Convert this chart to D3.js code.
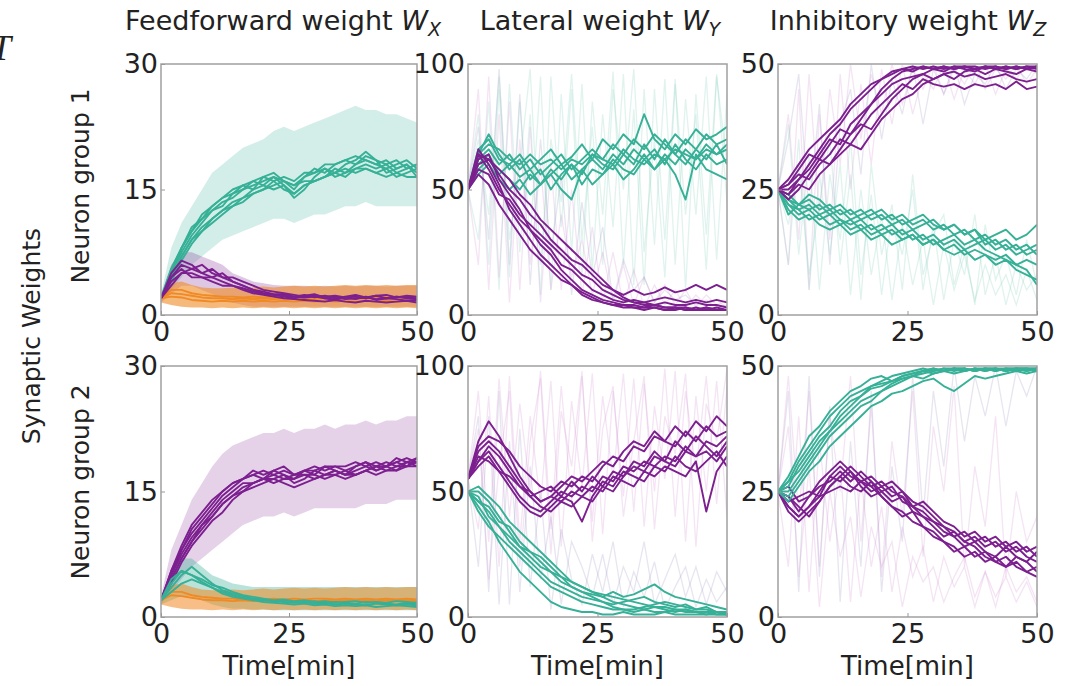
<!DOCTYPE html>
<html><head><meta charset="utf-8">
<script src="https://cdn.jsdelivr.net/npm/d3@7"></script>
<style>
html,body{margin:0;padding:0;background:#fff;}
svg{display:block;}
</style></head><body>
<svg id="chart" width="1073" height="686"></svg>
<script>
// ---------- time axis (minutes) ----------
const T = [0,2,4,6,8,10,12,14,16,18,20,22,24,26,28,30,32,34,36,38,40,42,44,46,48,50];
const X_TICKS = [0,25,50];
const TITLES = ["Feedforward weight ", "Lateral weight ", "Inhibitory weight "];
const SUBS = ["X","Y","Z"];
const ROW_LABELS = ["Neuron group 1","Neuron group 2"];
const Y_LABEL = "Synaptic Weights";
const X_LABEL = "Time[min]";
const Y_TICKS_FF = [0,15,30], Y_TICKS_LAT = [0,50,100], Y_TICKS_INH = [0,25,50];

// ---------- Panel A: feedforward, group 1 ----------
const A_teal1=[2,5.5,8,10.5,11.5,13,14,14.5,15.5,15,16.5,17,16,15.5,16.5,17.5,17,18,18.5,19,18.5,18,17.5,18,18.5,17.5];
const A_teal2=[2,4.5,7,9,10.5,11.5,12.5,13.5,14,15,15.5,15,15.5,14.5,15.5,16,16.5,17.5,17,17.5,18,17.5,18,17,17.5,18];
const A_teal3=[2,5,7.5,9.5,11,12.5,13.5,14,15,16,15.5,16.5,15.5,14,15,16.5,17.5,17,18,18.5,19.5,18.5,17,17.5,18,16.5];
const A_teal4=[2,4,6.5,8.5,10,11,12,13,14,14.5,15,15.5,16,15.5,16,16,16.5,17,17.5,17,17.5,17,17.5,16.5,17,17.5];
const A_teal5=[2,5.5,8,10,11.5,12.5,13,14.5,15,15.5,16,16.5,16,15,16.5,17,17.5,16.5,17,18,18.5,18,18.5,17.5,18,17];
const A_teal6=[2,4.5,7,9,10,11.5,12.5,13,13.5,14.5,15,16,15,14.5,15.5,16,16.5,17,16.5,17.5,17.5,17,16.5,17,16.5,16.5];
const A_teal7=[2,5,8,10,12,13,14,15,15.5,16,16.5,16,16.5,16,17,17,18,18,18.5,18,19,18.5,18,18.5,17.5,18];
const A_pur1=[2,4.5,6,5.5,5,5.5,4.5,4,3.5,3,2.8,2.5,2.5,2.2,2.4,2.1,2.3,2,2.2,2.4,2.1,2.3,2,2.2,2.1,2];
const A_pur2=[2,5,6.5,6,5,4.5,5,4,3.5,3,2.6,2.4,2.2,2,2.3,2.5,2,1.8,2.1,1.9,2.2,1.8,2,1.9,1.7,1.8];
const A_pur3=[2,4,5,5.5,6,5,4.5,4.5,4,3.5,3,2.8,2.6,2.4,2.2,2.4,2.2,2.3,2.1,2.2,2,2.3,2.4,2.1,2.3,2.2];
const A_pur4=[2,4.5,5.5,4.5,4.5,4,3.5,3.5,3,2.6,2.4,2.2,2,1.9,1.8,1.7,1.6,1.8,1.6,1.5,1.7,1.6,1.5,1.6,1.7,1.5];
const A_pur5=[2,3.5,5,5,4.5,4.5,4,3.5,3.2,2.8,2.5,2.4,2.3,2.2,2.1,2.2,2,2.1,1.9,2,2.1,1.9,2,2.2,2,1.9];
const A_or1=[2,3,3,2.6,2.4,2.3,2.2,2.2,2.1,2.2,2.1,2.2,2.1,2.2,2.1,2.2,2.2,2.1,2.2,2.1,2.2,2.1,2.2,2.1,2.2,2.1];
const A_or2=[2,2.6,2.5,2.3,2.1,2,2,1.9,2,1.9,2,1.9,2,1.9,2,1.9,2,1.9,2,1.9,2,1.9,2,1.9,2,1.9];
const A_or3=[2,2.2,2.1,1.8,1.7,1.6,1.7,1.6,1.7,1.6,1.7,1.6,1.7,1.6,1.7,1.6,1.7,1.6,1.7,1.6,1.7,1.6,1.7,1.6,1.7,1.6];
const A_tealHi=[2.5,8,11,13,15,17,18,19,20,20.5,21,22,22.5,22,22.5,23,23.5,24,24.5,25,24.5,24.5,24,24,23.5,23];
const A_tealLo=[1.5,3,4.5,6,7,8,9,9.5,10,10.5,11,11.5,11.5,11,11.5,12,12,12.5,13,13,13.5,13,13,13,13,13];
const A_purHi=[2.5,6,7.5,7.5,7,6.5,6,5,4.5,4,3.8,3.6,3.5,3.5,3.5,3.4,3.5,3.4,3.5,3.4,3.5,3.5,3.4,3.5,3.5,3.5];
const A_purLo=[1.5,2.5,3.5,3.5,3,2.5,2,1.5,1.2,1,1,1,1,1,1,1,1,1,1,1,1,1,1,1,1,1];
const A_orHi=[2.5,3.8,4,3.6,3.3,3.2,3.2,3.3,3.2,3.3,3.4,3.3,3.4,3.5,3.4,3.5,3.4,3.5,3.6,3.5,3.6,3.5,3.6,3.5,3.6,3.6];
const A_orLo=[1.5,1.2,1,0.9,0.9,0.8,0.9,0.8,0.9,0.8,0.9,0.8,0.9,0.8,0.9,0.8,0.9,0.8,0.9,0.8,0.9,0.8,0.9,0.8,0.9,0.8];

// ---------- Panel D: feedforward, group 2 ----------
const D_pur1=[2,5.5,8,10,11.5,13,14.5,15.5,16.5,17,16.5,17.5,17,16.5,17.5,17,18,17.5,17,18,18.5,17.5,18,18.5,19,18.5];
const D_pur2=[2,4.5,7,9,10.5,12,13.5,14.5,15.5,16,16.5,16.5,17,16,16.5,17.5,17,17.5,17,17,17.5,18,17.5,18,18,19];
const D_pur3=[2,5,8,10.5,12,13.5,15,16,16.5,17,17.5,17,17.5,17,17.5,17.5,18,18,17.5,18,18.5,18,18.5,18,18.5,18];
const D_pur4=[2,4,6.5,8.5,10,11.5,12.5,14,15,15.5,16,16.5,16,15.5,16,16.5,17,17,16.5,17,17.5,17,17.5,17.5,18,18.5];
const D_pur5=[2,5,7.5,9.5,11,12.5,14,15,16,16,16.5,17,16.5,17,17,16.5,17,17.5,17,17.5,18,17.5,18,18.5,18,18];
const D_pur6=[2,4.5,7,9,11,12,13.5,14.5,15,16,16.5,16,16.5,16.5,17,17,16.5,17,17.5,17,17.5,18,18,17.5,18.5,18.5];
const D_pur7=[2,5.5,8.5,11,12.5,14,15,16,16.5,17.5,17,17.5,18,17,17.5,18,17.5,18,18,18.5,18,18.5,18,19,18.5,19];
const D_teal1=[2,4.5,5.5,5,4.2,3.5,3,2.6,2.3,2.1,2,1.9,1.8,1.7,1.8,1.6,1.7,1.5,1.6,1.5,1.4,1.6,1.5,1.4,1.5,1.4];
const D_teal2=[2,3.5,5,6,5,4,3.2,2.8,2.5,2.2,2.1,1.9,2,1.8,1.7,1.9,1.6,1.8,1.7,1.6,1.8,1.7,1.6,1.5,1.7,1.6];
const D_teal3=[2,4,5.5,5,4.5,3.8,3.5,3,2.6,2.4,2.2,2,2.1,1.9,2,1.8,1.9,1.7,1.8,1.9,1.7,1.8,1.7,1.9,1.8,1.7];
const D_teal4=[2,3,4,4.5,4,3.5,2.8,2.4,2.2,2,1.8,1.7,1.6,1.5,1.6,1.4,1.5,1.3,1.4,1.3,1.4,1.2,1.3,1.4,1.3,1.2];
const D_purHi=[2.5,8,11,14,16,18,19.5,20.5,21,21.5,22,22,22.5,22,22.5,22.5,23,22.5,23,23,23.5,23,23.5,23.5,24,24];
const D_purLo=[1.5,3,4.5,6,7,8,9,10,11,11.5,12,12,12.5,12,12.5,13,13,13,13,13,13.5,13.5,13.5,14,14,14];
const D_tealHi=[2.5,5.5,7,7,6,5,4.5,4,3.8,3.6,3.6,3.6,3.6,3.6,3.6,3.6,3.6,3.6,3.6,3.6,3.6,3.6,3.6,3.6,3.6,3.6];
const D_tealLo=[1.5,2,2.5,2.5,2,1.5,1.2,1,1,0.9,0.9,0.8,0.8,0.8,0.8,0.8,0.8,0.8,0.8,0.8,0.8,0.8,0.8,0.8,0.8,0.8];

// ---------- Panel B: lateral, group 1 ----------
const B_teal1=[50,66,70,62,60,64,58,62,66,60,63,68,62,70,66,72,68,80,70,66,72,68,74,70,72,75];
const B_teal2=[50,60,64,56,60,55,58,52,56,60,54,58,62,58,64,60,66,62,58,64,60,66,62,68,64,66];
const B_teal3=[50,64,72,64,58,62,54,58,50,56,60,52,58,56,62,58,56,62,66,60,68,62,58,64,60,62];
const B_teal4=[50,58,62,58,54,50,56,52,58,54,60,56,64,60,58,64,60,68,62,70,64,60,66,62,68,60];
const B_teal5=[50,62,66,60,64,58,62,56,60,64,58,62,66,62,68,64,70,66,72,68,64,70,66,72,68,70];
const B_teal6=[50,56,60,54,50,54,48,52,56,50,46,58,52,56,60,54,58,64,58,62,56,46,64,58,56,54];
const B_teal7=[50,64,68,66,62,60,64,60,62,58,62,60,64,62,60,66,62,60,64,62,66,64,62,66,64,68];
const B_pur1=[50,64,58,50,44,38,34,28,24,18,14,10,8,6,5,4,4,3,3,2,3,2,2,3,2,2];
const B_pur2=[50,60,62,56,50,46,40,36,30,26,22,20,16,12,10,8,10,8,9,11,9,10,12,10,12,10];
const B_pur3=[50,66,60,52,42,36,30,24,20,16,12,9,7,5,4,3,3,2,3,2,2,3,2,2,3,2];
const B_pur4=[50,58,56,48,46,40,36,32,28,24,20,16,14,10,8,6,5,5,4,5,4,4,5,4,4,3];
const B_pur5=[50,62,64,54,48,42,34,30,26,20,18,14,10,8,6,5,6,5,6,7,6,5,6,5,6,5];
const B_pur6=[50,56,52,44,38,32,26,22,18,14,12,8,6,5,4,4,3,3,4,3,3,2,3,2,2,2];
const B_pur7=[50,64,62,58,54,48,44,38,34,30,26,22,18,14,10,7,5,4,4,3,3,3,2,3,2,2];
const B_fteal1=[50,80,20,90,15,85,30,95,10,88,25,92,18,80,35,96,12,90,28,94,20,86,40,95,22,88];
const B_fteal2=[50,30,85,10,92,25,80,8,95,35,90,15,85,40,97,20,82,12,90,30,94,10,88,32,96,45];
const B_fteal3=[50,70,40,95,30,60,98,20,70,45,96,30,75,20,90,50,98,25,70,15,92,40,80,18,95,60];
const B_fpur1=[50,90,10,80,5,70,20,60,10,40,15,30,8,25,5,20,4,15,5,12,4,10,3,8,4,6];
const B_fpur2=[50,20,95,15,85,10,75,5,60,10,50,8,35,5,25,4,18,3,12,4,10,3,8,4,6,3];
const B_fpur3=[50,75,30,98,20,88,12,70,25,55,8,45,15,35,6,22,10,15,5,10,6,8,4,6,3,4];

// ---------- Panel C: inhibitory, group 1 ----------
const C_pur1=[25,24,27,30,33,36,38,41,43,45,47,48,49,48.5,49.5,49,49.5,49,49.5,49,49.5,49,49.5,49,49.5,49];
const C_pur2=[25,26,28,27,30,32,35,34,37,40,42,44,46,45,47,46,45.5,46,45,46,45.5,46,45,46.5,45,45.5];
const C_pur3=[25,23,25,28,31,30,33,36,38,37,40,43,45,47,48,49,48.5,49.5,49,48.5,49.5,49,49.5,49,49.5,49.5];
const C_pur4=[25,27,30,33,35,37,39,42,44,46,47,48.5,49,49.5,49,49.5,49,49.5,49.5,49,49.5,49.5,49,49.5,49,49.5];
const C_pur5=[25,24,26,25,28,30,32,34,33,36,39,41,43,44,46,47,48,47,48.5,49,48,49,48.5,48,49,48.5];
const C_pur6=[25,26,29,32,31,34,37,36,39,42,44,46,47,47.5,48,47,48,48.5,47.5,48,47,47.5,48,47,46.5,47];
const C_pur7=[25,25,27,29,32,35,34,38,40,42,45,47,48.5,49,49.5,49,49.5,49,49.5,49.5,49,49.5,49,49.5,49,49.5];
const C_teal1=[25,22,20,21,19,20,18,19,17,18,16,17,15,16,14,15,13,14,12,13,12,11,12,10,11,10];
const C_teal2=[25,23,22,23,21,22,20,21,19,20,21,19,20,18,19,17,18,16,17,15,16,14,15,13,14,12];
const C_teal3=[25,21,19,20,18,17,18,16,17,15,16,14,15,16,14,15,13,12,13,11,12,10,11,9,8,7];
const C_teal4=[25,24,22,21,22,20,21,19,20,21,19,20,18,19,20,18,17,18,16,17,15,16,17,15,16,18];
const C_teal5=[25,22,21,19,20,18,19,17,18,16,17,18,16,17,15,16,14,15,13,14,15,13,14,12,13,14];
const C_teal6=[25,23,21,22,20,21,19,18,19,17,18,16,17,15,16,14,15,16,14,15,13,12,11,10,9,6];
const C_teal7=[25,20,22,24,23,21,22,20,21,19,20,18,19,17,18,19,17,18,16,17,14,15,13,14,12,13];
const C_fpur1=[25,40,15,48,20,45,30,50,35,48,40,50,42,49,45,50,44,49,46,50,45,49,47,50,46,49];
const C_fpur2=[25,10,45,5,40,15,48,25,46,30,49,38,50,40,48,45,50,43,49,46,50,44,49,47,50,48];
const C_fpur3=[25,35,48,20,42,10,38,45,28,50,35,47,40,50,38,49,44,50,42,48,46,50,45,49,47,50];
const C_fteal1=[25,10,35,5,28,12,30,4,25,8,20,3,18,6,15,2,14,5,12,3,10,4,8,2,9,3];
const C_fteal2=[25,38,12,32,5,28,15,35,8,24,4,20,12,25,5,18,3,15,8,20,4,12,2,10,5,8];
const C_fteal3=[25,18,30,8,22,35,10,28,3,30,12,22,5,28,8,16,20,6,14,2,18,7,12,4,15,6];

// ---------- Panel E: lateral, group 2 ----------
const E_pur1=[55,70,78,72,64,56,50,46,48,52,56,54,58,62,60,66,70,68,74,70,76,72,78,74,80,76];
const E_pur2=[55,62,66,60,54,48,44,42,46,50,48,52,50,56,54,60,58,62,60,64,62,68,64,66,62,68];
const E_pur3=[55,66,70,66,60,54,48,50,52,48,54,50,56,52,58,56,62,60,66,62,70,66,72,68,64,70];
const E_pur4=[55,60,64,58,52,46,42,40,44,48,46,38,48,54,52,58,56,54,60,58,64,60,58,62,66,60];
const E_pur5=[55,68,72,70,66,60,56,52,50,54,52,56,54,60,64,62,68,66,72,70,68,74,70,76,72,74];
const E_pur6=[55,64,62,58,56,52,50,46,48,46,50,48,52,50,56,54,52,58,56,60,58,56,62,42,58,64];
const E_pur7=[55,62,68,64,58,52,48,44,42,46,44,48,46,52,50,56,60,58,64,62,60,66,64,70,68,72];
const E_teal1=[50,46,42,36,30,26,22,18,14,12,10,8,7,6,5,6,7,8,6,5,4,5,3,4,2,2];
const E_teal2=[50,52,48,44,38,34,30,26,22,18,14,12,10,8,6,5,4,3,4,3,2,3,2,2,1,1];
const E_teal3=[50,44,38,30,24,18,14,10,6,4,3,2,2,1,1,2,1,1,1,2,1,1,1,1,1,1];
const E_teal4=[50,48,40,36,32,28,24,20,18,14,12,10,9,8,10,8,9,11,13,10,8,7,6,5,4,3];
const E_teal5=[50,42,36,32,28,24,20,16,12,10,8,6,5,4,3,3,2,3,2,2,3,2,2,1,2,1];
const E_teal6=[50,50,46,40,34,28,26,22,18,16,12,10,8,6,4,3,3,4,5,6,5,4,3,3,2,2];
const E_teal7=[50,46,44,38,36,30,26,24,20,16,14,12,10,9,8,7,6,5,4,4,3,3,2,2,2,1];
const E_fpur1=[55,90,30,95,40,85,50,98,35,92,45,96,38,88,55,97,42,93,50,99,40,90,58,96,45,92];
const E_fpur2=[55,35,88,20,96,30,80,45,94,28,86,52,97,33,90,48,95,36,84,55,98,30,88,50,94,40];
const E_fpur3=[55,75,15,60,90,20,70,95,25,82,60,98,30,75,92,40,70,96,35,80,65,97,28,85,70,99];
const E_flav1=[55,20,80,5,70,10,60,15,40,5,30,20,8,25,5,20,10,30,5,15,25,8,20,5,18,10];
const E_flav2=[55,80,10,90,5,75,12,50,3,35,15,5,25,10,30,4,18,8,22,3,12,20,4,15,6,12];

// ---------- Panel F: inhibitory, group 2 ----------
const F_teal1=[25,27,31,34,37,40,42,44,45,46,47,48,48.5,49,49.5,49,49.5,49.5,49,49.5,49.5,49,49.5,49.5,49,49.5];
const F_teal2=[25,24,27,30,33,36,38,40,42,43,45,46,47,48,47.5,48.5,49,48.5,49,49.5,49,49.5,49,49.5,49.5,49];
const F_teal3=[25,28,32,36,38,41,43,45,46,47.5,48,47,48,48.5,49,49.5,49,49.5,49.5,49,49.5,49.5,49,49.5,49.5,49.5];
const F_teal4=[25,23,26,29,31,34,36,38,40,42,43,44.5,45,46,47,47.5,46,45,46.5,48,47.5,48,48.5,49,48.5,49];
const F_teal5=[25,26,30,33,36,38,41,43,44,46,46.5,47,48,48.5,49,48.5,49,49.5,49,49.5,49,49.5,49.5,49,49.5,49];
const F_teal6=[25,25,28,31,34,37,39,41,43,44,45,46.5,47.5,48,48.5,49,49.5,49,49.5,49,49.5,49,49.5,49.5,49,49.5];
const F_teal7=[25,27,29,32,35,37,40,42,44,45.5,46,47,47.5,48,49,49.5,49,49.5,49.5,49,49.5,49.5,49,49.5,49.5,49.5];
const F_pur1=[25,22,20,22,25,28,30,28,27,25,26,24,25,22,20,18,16,17,15,16,14,15,13,14,12,11];
const F_pur2=[25,24,21,24,26,27,29,27,29,27,25,26,23,22,21,19,17,16,14,15,13,12,14,12,11,9];
const F_pur3=[25,21,19,21,23,26,28,26,25,27,24,22,21,19,18,16,15,14,12,13,11,12,10,11,9,8];
const F_pur4=[25,23,24,25,24,28,27,29,26,24,25,23,24,21,20,19,18,16,17,15,16,14,15,13,14,12];
const F_pur5=[25,22,20,22,24,25,26,25,27,28,26,27,25,23,22,20,18,17,15,14,12,11,12,10,9,10];
const F_pur6=[25,24,22,20,23,26,28,30,28,26,24,22,20,21,18,17,15,13,14,12,13,11,10,12,11,13];
const F_pur7=[25,26,23,24,27,29,31,29,27,26,27,25,24,22,23,21,19,18,16,17,15,16,14,15,13,14];
const F_fpur1=[25,10,40,5,35,15,30,3,28,10,22,5,18,8,14,3,12,6,10,2,9,4,8,3,7,2];
const F_fpur2=[25,38,8,30,2,25,12,20,4,18,10,15,2,12,7,10,3,8,12,4,9,2,10,5,8,3];
const F_fpur3=[25,48,20,45,10,40,25,48,15,42,8,35,20,45,12,38,25,46,10,30,18,40,8,25,15,20];
const F_flav1=[25,45,5,48,8,42,3,35,10,45,5,30,15,48,20,45,30,50,35,48,40,50,38,49,44,50];

// ---------- styling ----------
const TEAL="#36b096", PURPLE="#7c1f8f", ORANGE="#f08a24", LAV="#9a92c0", PINK="#cf8fcf", FTEAL="#7ccbb8";
const COLS=[[161,417],[468,727],[778,1037]];
const ROWS=[[64,315],[366,617]];
const TITLE_X=[283,600,908];

const panels=[
 {col:0,row:0,ymax:30,yt:Y_TICKS_FF,
  areas:[{lo:A_tealLo,hi:A_tealHi,c:TEAL,o:0.22},{lo:A_purLo,hi:A_purHi,c:PURPLE,o:0.25},{lo:A_orLo,hi:A_orHi,c:ORANGE,o:0.6}],
  faint:[],
  bold:[{c:TEAL,ls:[A_teal1,A_teal2,A_teal3,A_teal4,A_teal5,A_teal6,A_teal7]},{c:ORANGE,ls:[A_or1,A_or2,A_or3]},{c:PURPLE,ls:[A_pur1,A_pur2,A_pur3,A_pur4,A_pur5]}]},
 {col:1,row:0,ymax:100,yt:Y_TICKS_LAT,areas:[],
  faint:[{c:FTEAL,ls:[B_fteal1,B_fteal2,B_fteal3]},{c:PINK,ls:[B_fpur1,B_fpur2]},{c:LAV,ls:[B_fpur3]}],
  bold:[{c:TEAL,ls:[B_teal1,B_teal2,B_teal3,B_teal4,B_teal5,B_teal6,B_teal7]},{c:PURPLE,ls:[B_pur1,B_pur2,B_pur3,B_pur4,B_pur5,B_pur6,B_pur7]}]},
 {col:2,row:0,ymax:50,yt:Y_TICKS_INH,areas:[],
  faint:[{c:PINK,ls:[C_fpur1,C_fpur2]},{c:LAV,ls:[C_fpur3]},{c:FTEAL,ls:[C_fteal1,C_fteal2,C_fteal3]}],
  bold:[{c:TEAL,ls:[C_teal1,C_teal2,C_teal3,C_teal4,C_teal5,C_teal6,C_teal7]},{c:PURPLE,ls:[C_pur1,C_pur2,C_pur3,C_pur4,C_pur5,C_pur6,C_pur7]}]},
 {col:0,row:1,ymax:30,yt:Y_TICKS_FF,
  areas:[{lo:D_purLo,hi:D_purHi,c:PURPLE,o:0.2},{lo:D_tealLo,hi:D_tealHi,c:TEAL,o:0.35},{lo:A_orLo,hi:A_orHi,c:ORANGE,o:0.55}],
  faint:[],
  bold:[{c:PURPLE,ls:[D_pur1,D_pur2,D_pur3,D_pur4,D_pur5,D_pur6,D_pur7]},{c:ORANGE,ls:[A_or1,A_or2]},{c:TEAL,ls:[D_teal1,D_teal2,D_teal3,D_teal4]}]},
 {col:1,row:1,ymax:100,yt:Y_TICKS_LAT,areas:[],
  faint:[{c:PINK,ls:[E_fpur1,E_fpur2,E_fpur3]},{c:LAV,ls:[E_flav1,E_flav2]}],
  bold:[{c:TEAL,ls:[E_teal1,E_teal2,E_teal3,E_teal4,E_teal5,E_teal6,E_teal7]},{c:PURPLE,ls:[E_pur1,E_pur2,E_pur3,E_pur4,E_pur5,E_pur6,E_pur7]}]},
 {col:2,row:1,ymax:50,yt:Y_TICKS_INH,areas:[],
  faint:[{c:PINK,ls:[F_fpur1,F_fpur2,F_fpur3]},{c:LAV,ls:[F_flav1]}],
  bold:[{c:PURPLE,ls:[F_pur1,F_pur2,F_pur3,F_pur4,F_pur5,F_pur6,F_pur7]},{c:TEAL,ls:[F_teal1,F_teal2,F_teal3,F_teal4,F_teal5,F_teal6,F_teal7]}]}
];

const svg=d3.select("#chart");
const FONT='"DejaVu Sans", sans-serif';
const defs=svg.append("defs");

panels.forEach((p,i)=>{
  const [x0,x1]=COLS[p.col],[y0,y1]=ROWS[p.row];
  const x=d3.scaleLinear().domain([0,50]).range([x0,x1]);
  const y=d3.scaleLinear().domain([0,p.ymax]).range([y1,y0]);
  defs.append("clipPath").attr("id","clip"+i).append("rect")
    .attr("x",x0).attr("y",y0).attr("width",x1-x0).attr("height",y1-y0);
  const g=svg.append("g").attr("clip-path",`url(#clip${i})`);
  const area=(lo,hi)=>d3.area().x((d,j)=>x(T[j])).y0((d,j)=>y(lo[j])).y1((d,j)=>y(hi[j]))(hi);
  const line=d3.line().x((d,j)=>x(T[j])).y(d=>y(d));
  p.areas.forEach(a=>g.append("path").attr("d",area(a.lo,a.hi)).attr("fill",a.c).attr("fill-opacity",a.o));
  p.faint.forEach(f=>f.ls.forEach(l=>g.append("path").attr("d",line(l)).attr("fill","none")
      .attr("stroke",f.c).attr("stroke-opacity",0.24).attr("stroke-width",1.3)));
  p.bold.forEach(b=>b.ls.forEach(l=>g.append("path").attr("d",line(l)).attr("fill","none")
      .attr("stroke",b.c).attr("stroke-width",1.9).attr("stroke-linejoin","round")));
  // frame
  svg.append("rect").attr("x",x0).attr("y",y0).attr("width",x1-x0).attr("height",y1-y0)
    .attr("fill","none").attr("stroke","#a0a0a0").attr("stroke-width",1.5);
  // axes
  const ya=svg.append("g").attr("transform",`translate(${x0},0)`)
    .call(d3.axisLeft(y).tickValues(p.yt).tickFormat(d3.format("d")).tickSizeInner(-4).tickSizeOuter(0).tickPadding(3));
  const xa=svg.append("g").attr("transform",`translate(0,${y1})`)
    .call(d3.axisBottom(x).tickValues(X_TICKS).tickFormat(d3.format("d")).tickSizeInner(-4).tickSizeOuter(0).tickPadding(7));
  [ya,xa].forEach(a=>{
    a.select(".domain").remove();
    a.selectAll("line").attr("stroke","#999");
    a.selectAll("text").attr("font-family",FONT).attr("font-size",27).attr("fill","#222");
  });
});

// titles
TITLES.forEach((t,i)=>{
  const tx=svg.append("text").attr("x",TITLE_X[i]).attr("y",30).attr("text-anchor","middle")
    .attr("font-family",FONT).attr("font-size",27).attr("fill","#222");
  tx.append("tspan").text(t);
  tx.append("tspan").attr("font-style","italic").text("W");
  tx.append("tspan").attr("font-style","italic").attr("font-size",19).attr("dy",6).text(SUBS[i]);
});
// x labels
COLS.forEach(c=>{
  svg.append("text").attr("x",(c[0]+c[1])/2).attr("y",675).attr("text-anchor","middle")
    .attr("font-family",FONT).attr("font-size",26).attr("fill","#222").text(X_LABEL);
});
// row labels
[[80,186],[80,482]].forEach((pos,i)=>{
  svg.append("text").attr("transform",`translate(${pos[0]},${pos[1]}) rotate(-90)`)
    .attr("text-anchor","middle").attr("dominant-baseline","central")
    .attr("font-family",FONT).attr("font-size",25).attr("fill","#222").text(ROW_LABELS[i]);
});
svg.append("text").attr("transform","translate(31,336) rotate(-90)")
  .attr("text-anchor","middle").attr("dominant-baseline","central")
  .attr("font-family",FONT).attr("font-size",25).attr("fill","#222").text(Y_LABEL);
// italic glyph partly visible at the top-left edge
svg.append("text").attr("x",-9).attr("y",60).attr("font-family","Liberation Serif, serif")
  .attr("font-style","italic").attr("font-size",36).attr("fill","#222").text("T");
</script>
</body></html>
